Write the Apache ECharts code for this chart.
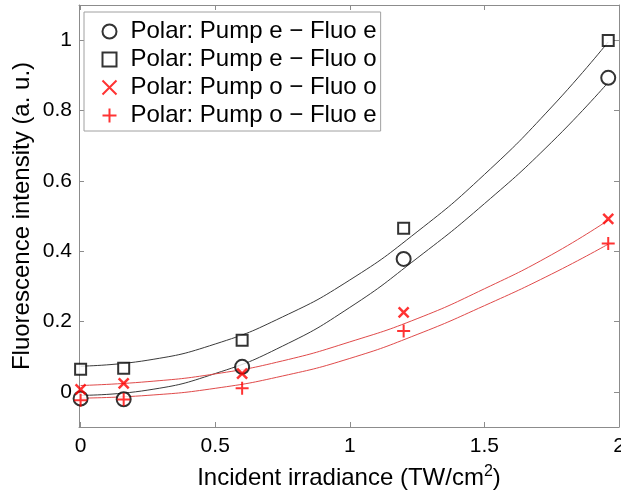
<!DOCTYPE html>
<html>
<head>
<meta charset="utf-8">
<script src="https://cdn.jsdelivr.net/npm/echarts@6/dist/echarts.min.js"></script>
<style>
html,body{margin:0;padding:0;background:#fff;}
#chart{width:621px;height:492px;}
</style>
</head>
<body>
<div id="chart"></div>
<script>
// Measured data points
const xData = [0, 0.16, 0.6, 1.2, 1.96];
const eeY = [-0.019, -0.021, 0.071, 0.378, 0.893];
const eoY = [0.064, 0.067, 0.147, 0.465, 0.999];
const ooY = [0.007, 0.024, 0.052, 0.226, 0.492];
const oeY = [-0.024, -0.022, 0.010, 0.173, 0.422];

// Fit curves
const fitX  = [0, 0.25, 0.5, 0.75, 1.0, 1.25, 1.5, 1.75, 1.96];
const fitEE = [-0.01, 0.005, 0.052, 0.13, 0.24, 0.38, 0.535, 0.71, 0.88];
const fitEO = [0.073, 0.09, 0.136, 0.213, 0.318, 0.455, 0.618, 0.81, 0.995];
const fitOO = [0.018, 0.029, 0.051, 0.088, 0.142, 0.208, 0.293, 0.39, 0.488];
const fitOE = [-0.018, -0.01, 0.01, 0.045, 0.095, 0.163, 0.245, 0.335, 0.42];

const names = ['Polar: Pump e \u2212 Fluo e', 'Polar: Pump e \u2212 Fluo o', 'Polar: Pump o \u2212 Fluo o', 'Polar: Pump o \u2212 Fluo e'];
const xTicks = [0, 0.5, 1, 1.5, 2];
const yTicks = [0, 0.2, 0.4, 0.6, 0.8, 1];

const FONT = 'Liberation Sans, Arial, sans-serif';
const AXC = '#8c8c8c';

function pairs(xs, ys) { return xs.map((x, i) => [x, ys[i]]); }

const chart = echarts.init(document.getElementById('chart'), null, {renderer: 'canvas'});

const baseX = {
  type: 'value', min: -0.006, max: 2,
  axisLine: {show: true, onZero: false, lineStyle: {color: AXC, width: 1}},
  axisTick: {show: true, inside: true, length: 5, customValues: xTicks, lineStyle: {color: AXC}},
  splitLine: {show: false}
};
const baseY = {
  type: 'value', min: -0.1, max: 1.1,
  axisLine: {show: true, onZero: false, lineStyle: {color: AXC, width: 1}},
  axisTick: {show: true, inside: true, length: 5, customValues: yTicks, lineStyle: {color: AXC}},
  splitLine: {show: false}
};

const crossPath = 'path://M0,0L10,10M0,10L10,0';
const plusPath = 'path://M5,0L5,10M0,5L10,5';

chart.setOption({
  animation: false,
  backgroundColor: '#fff',
  grid: {left: 79, right: 2, top: 5, bottom: 65, containLabel: false, outerBoundsMode: 'none'},
  xAxis: [
    Object.assign({}, baseX, {
      position: 'bottom',
      axisLabel: {show: true, customValues: xTicks, margin: 9, color: '#000', fontSize: 21, fontFamily: FONT,
        formatter: v => String(v)},
      name: 'Incident irradiance (TW/cm{sup|2})',
      nameLocation: 'middle', nameGap: 37, nameMoveOverlap: false,
      nameTextStyle: {color: '#000', fontSize: 24, fontFamily: FONT,
        rich: {sup: {fontSize: 16, fontFamily: FONT, color: '#000', verticalAlign: 'bottom', padding: [0, 0, 12, 0]}}}
    }),
    Object.assign({}, baseX, {position: 'top', axisLabel: {show: false}})
  ],
  yAxis: [
    Object.assign({}, baseY, {
      position: 'left',
      axisLabel: {show: true, customValues: yTicks, margin: 7, color: '#000', fontSize: 21, fontFamily: FONT,
        formatter: v => String(v)},
      name: 'Fluorescence intensity (a. u.)',
      nameLocation: 'middle', nameGap: 45, nameMoveOverlap: false,
      nameTextStyle: {color: '#000', fontSize: 24, fontFamily: FONT}
    }),
    Object.assign({}, baseY, {position: 'right', axisLabel: {show: false}})
  ],
  legend: {
    show: true, orient: 'vertical', left: 84, top: 12,
    padding: [7, 4, 3, 16],
    itemGap: 3, itemWidth: 14, itemHeight: 14,
    backgroundColor: '#fff', borderColor: '#a0a0a0', borderWidth: 1,
    formatter: name => '{g|}' + name,
    textStyle: {color: '#000', fontSize: 24, fontFamily: FONT, lineHeight: 25,
      rich: {g: {width: 9, fontSize: 24, lineHeight: 25}}},
    data: names
  },
  series: [
    {type: 'line', data: pairs(fitX, fitEE), smooth: true, showSymbol: false, symbol: 'none',
      lineStyle: {color: '#3a3a3a', width: 1}, z: 2, silent: true},
    {type: 'line', data: pairs(fitX, fitEO), smooth: true, showSymbol: false, symbol: 'none',
      lineStyle: {color: '#3a3a3a', width: 1}, z: 2, silent: true},
    {type: 'line', data: pairs(fitX, fitOO), smooth: true, showSymbol: false, symbol: 'none',
      lineStyle: {color: '#e04a4a', width: 1}, z: 2, silent: true},
    {type: 'line', data: pairs(fitX, fitOE), smooth: true, showSymbol: false, symbol: 'none',
      lineStyle: {color: '#e04a4a', width: 1}, z: 2, silent: true},
    {type: 'scatter', name: names[0], data: pairs(xData, eeY), symbol: 'emptyCircle', symbolSize: 14,
      itemStyle: {color: '#000', borderColor: '#000', borderWidth: 2}, z: 5},
    {type: 'scatter', name: names[1], data: pairs(xData, eoY), symbol: 'emptyRect', symbolSize: 11,
      itemStyle: {color: '#000', borderColor: '#000', borderWidth: 2}, z: 5},
    {type: 'scatter', name: names[2], data: pairs(xData, ooY), symbol: crossPath, symbolSize: 10,
      itemStyle: {color: 'none', borderColor: '#ff0000', borderWidth: 2.5}, z: 6},
    {type: 'scatter', name: names[3], data: pairs(xData, oeY), symbol: plusPath, symbolSize: 13,
      itemStyle: {color: 'none', borderColor: '#ff0000', borderWidth: 2}, z: 6}
  ]
});
</script>
</body>
</html>
